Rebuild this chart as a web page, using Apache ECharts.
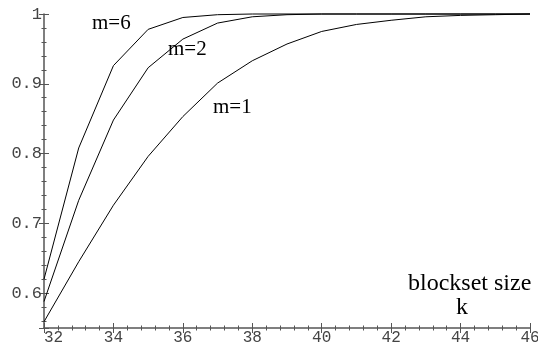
<!DOCTYPE html>
<html>
<head>
<meta charset="utf-8">
<script src="https://cdn.jsdelivr.net/npm/echarts@6/dist/echarts.min.js"></script>
<style>
  html, body { margin: 0; padding: 0; background: #fff; }
  #chart { width: 538px; height: 345px; }
</style>
</head>
<body>
<div id="chart"></div>
<script>
// Block set size k
const kValues = [32, 33, 34, 35, 36, 37, 38, 39, 40, 41, 42, 43, 44, 45, 46];
// Curves for m = 6, 2, 1
const m6 = [0.620, 0.808, 0.926, 0.978, 0.995, 0.999, 1, 1, 1, 1, 1, 1, 1, 1, 1];
const m2 = [0.588, 0.733, 0.848, 0.923, 0.964, 0.987, 0.996, 0.999, 1, 1, 1, 1, 1, 1, 1];
const m1 = [0.559, 0.645, 0.726, 0.796, 0.853, 0.901, 0.933, 0.957, 0.975, 0.985, 0.991, 0.996, 0.998, 0.999, 1];
const xTickLabels = ['32', '34', '36', '38', '40', '42', '44', '46'];
const yTickLabels = ['0.6', '0.7', '0.8', '0.9', '1'];
const curveNames = ['m=6', 'm=2', 'm=1'];
const xAxisTitle = ['blockset size', 'k'];

const AXIS_COLOR = '#555';
const monoFont = 'Liberation Mono';
const serifFont = 'Liberation Serif';

function pairs(ys) { return kValues.map((k, i) => [k, ys[i]]); }

function xAx(interval, inside, len, withLabel, withLine) {
  return {
    type: 'value', gridIndex: 0, position: 'bottom', min: 32, max: 46, interval: interval,
    axisLine: { show: withLine, onZero: false, lineStyle: { color: AXIS_COLOR, width: 1.5 } },
    axisTick: { show: true, inside: inside, length: len, lineStyle: { color: AXIS_COLOR, width: 1 } },
    axisLabel: withLabel ? {
      show: true, fontFamily: monoFont, fontSize: 16, color: '#444', margin: 2,
      alignMinLabel: 'left',
      formatter: function (v) { const s = String(v); return xTickLabels.indexOf(s) >= 0 ? s : ''; }
    } : { show: false },
    splitLine: { show: false }
  };
}
// y axis: no fixed interval (min 0.55 is not a multiple), let ECharts pick nice steps
function yAx(splitNumber, inside, len, withLabel, withLine) {
  return {
    type: 'value', gridIndex: 0, position: 'left', min: 0.55, max: 1, splitNumber: splitNumber,
    axisLine: { show: withLine, onZero: false, lineStyle: { color: AXIS_COLOR, width: 1.5 } },
    axisTick: { show: true, inside: inside, length: len, lineStyle: { color: AXIS_COLOR, width: 1 } },
    axisLabel: withLabel ? {
      show: true, fontFamily: monoFont, fontSize: 17, color: '#444', margin: 2,
      formatter: function (v) {
        const s = (Math.abs(v - 1) < 1e-9) ? '1' : (Math.round(v * 100) / 100).toString();
        return yTickLabels.indexOf(s) >= 0 ? s : '';
      }
    } : { show: false },
    splitLine: { show: false }
  };
}

const chart = echarts.init(document.getElementById('chart'), null, { renderer: 'canvas' });
chart.setOption({
  animation: false,
  backgroundColor: '#fff',
  grid: { left: 44, right: 8, top: 14, bottom: 17, containLabel: false, outerBoundsMode: 'none' },
  xAxis: [
    xAx(2, false, 5, true, true),
    xAx(2, true, 5, false, false),
    xAx(0.4, false, 2.5, false, false),
    xAx(0.4, true, 2.5, false, false)
  ],
  yAxis: [
    yAx(5, false, 5, true, true),
    yAx(5, true, 5, false, false),
    yAx(22, false, 2.5, false, false),
    yAx(22, true, 2.5, false, false)
  ],
  series: [m6, m2, m1].map((ys, i) => ({
    name: curveNames[i], type: 'line', xAxisIndex: 0, yAxisIndex: 0,
    data: pairs(ys), showSymbol: false, symbol: 'none', clip: false,
    lineStyle: { color: '#000', width: 1 }
  })),
  graphic: [
    { type: 'text', left: 92, top: 13, style: { text: curveNames[0], font: '21px "' + serifFont + '"', fill: '#000' } },
    { type: 'text', left: 168, top: 39, style: { text: curveNames[1], font: '21px "' + serifFont + '"', fill: '#000' } },
    { type: 'text', left: 213, top: 97, style: { text: curveNames[2], font: '21px "' + serifFont + '"', fill: '#000' } },
    { type: 'text', left: 408, top: 272, style: { text: xAxisTitle[0], font: '24px "' + serifFont + '"', fill: '#000' } },
    { type: 'text', left: 456, top: 296, style: { text: xAxisTitle[1], font: '24px "' + serifFont + '"', fill: '#000' } }
  ]
});
</script>
</body>
</html>
